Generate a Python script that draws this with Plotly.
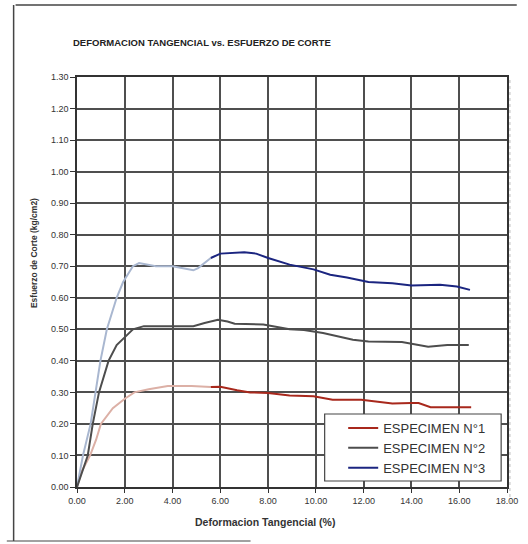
import plotly.graph_objects as go

# ---- data ----
spec1_x = [0, 0.2, 0.55, 0.8, 1.0, 1.5, 2.0, 2.4, 3.0, 3.8, 4.8, 5.6, 6.0, 6.7, 7.25, 8.0, 8.9, 9.9, 10.7, 11.9, 12.75, 13.2, 14.0, 14.3, 14.8, 15.6, 16.5]
spec1_y = [0, 0.05, 0.10, 0.15, 0.20, 0.25, 0.28, 0.30, 0.31, 0.32, 0.32, 0.317, 0.318, 0.307, 0.30, 0.298, 0.29, 0.288, 0.277, 0.277, 0.27, 0.265, 0.266, 0.266, 0.253, 0.253, 0.253]

spec2_x = [0, 0.45, 0.66, 0.92, 1.32, 1.66, 2.07, 2.34, 2.8, 4.0, 4.87, 5.34, 5.9, 6.3, 6.6, 7.8, 8.9, 9.5, 10.3, 11.55, 12.2, 13.6, 14.7, 15.5, 16.4]
spec2_y = [0, 0.10, 0.20, 0.30, 0.40, 0.45, 0.48, 0.50, 0.51, 0.51, 0.51, 0.52, 0.53, 0.525, 0.518, 0.515, 0.50, 0.498, 0.488, 0.467, 0.461, 0.46, 0.445, 0.45, 0.45]

spec3_x = [0, 0.25, 0.57, 0.77, 0.98, 1.25, 1.66, 1.93, 2.34, 2.6, 3.3, 4.0, 4.87, 5.07, 5.6, 6.0, 7.0, 7.5, 8.0, 8.9, 9.9, 10.6, 11.3, 12.2, 13.2, 14.0, 15.2, 15.9, 16.45]
spec3_y = [0, 0.10, 0.20, 0.30, 0.40, 0.50, 0.60, 0.65, 0.70, 0.71, 0.70, 0.70, 0.687, 0.694, 0.726, 0.74, 0.744, 0.74, 0.726, 0.705, 0.69, 0.673, 0.664, 0.65, 0.646, 0.639, 0.641, 0.636, 0.625]

names = ["ESPECIMEN N°1", "ESPECIMEN N°2", "ESPECIMEN N°3"]
x_ticks = [0, 2, 4, 6, 8, 10, 12, 14, 16, 18]
y_ticks = [0.0, 0.1, 0.2, 0.3, 0.4, 0.5, 0.6, 0.7, 0.8, 0.9, 1.0, 1.1, 1.2, 1.3]

title = "DEFORMACION TANGENCIAL vs. ESFUERZO DE CORTE"
x_title = "Deformacion Tangencial (%)"
y_title = "Esfuerzo de Corte (kg/cm2)"

# ---- style ----
dark_cols = ["#a8281c", "#4d4d4d", "#1b2580"]
pale_cols = ["#dcb0a6", None, "#a9b7d0"]
pale_until = [5.9, None, 5.6]

fig = go.Figure()
series = [(spec1_x, spec1_y), (spec2_x, spec2_y), (spec3_x, spec3_y)]

# pale (scan-faded) early parts, drawn first
for i, (xs, ys) in enumerate(series):
    if pale_until[i] is None:
        continue
    idx = [k for k, v in enumerate(xs) if v <= pale_until[i]]
    fig.add_trace(go.Scatter(x=[xs[k] for k in idx], y=[ys[k] for k in idx],
                             mode="lines", line=dict(color=pale_cols[i], width=2),
                             showlegend=False, hoverinfo="skip"))

for i, (xs, ys) in enumerate(series):
    if pale_until[i] is None:
        px, py = xs, ys
    else:
        idx = [k for k, v in enumerate(xs) if v > pale_until[i]]
        start = max(idx[0] - 1, 0)
        px, py = xs[start:], ys[start:]
    fig.add_trace(go.Scatter(x=px, y=py, mode="lines", name=names[i],
                             line=dict(color=dark_cols[i], width=2)))

W, H = 528, 544
L, R, T, B = 77, 10, 77, 57
pw, ph = W - L - R, H - T - B

def px2x(p):
    return (p - L) / pw

def py2y(p):
    return (H - B - p) / ph

grid_col = "#4f4f4f"
fig.update_layout(
    width=W, height=H,
    margin=dict(l=L, r=R, t=T, b=B),
    paper_bgcolor="white", plot_bgcolor="white",
    font=dict(family="Liberation Sans, Arial, sans-serif", color="#333"),
    showlegend=True,
    legend=dict(x=px2x(350), y=py2y(413), xanchor="left", yanchor="top",
                bgcolor="rgba(0,0,0,0)", borderwidth=0,
                font=dict(size=13, color="#333"), itemwidth=30,
                tracegroupgap=0),
    xaxis=dict(range=[0, 18], tickvals=x_ticks,
               ticktext=["%.2f" % v for v in x_ticks],
               showgrid=True, gridcolor=grid_col, gridwidth=1.5,
               showline=True, linecolor="#333", linewidth=1.5, mirror=True,
               ticks="outside", ticklen=4, tickcolor="#333",
               tickfont=dict(size=9, color="#333"), zeroline=False),
    yaxis=dict(range=[0, 1.3], tickvals=y_ticks,
               ticktext=["%.2f" % v for v in y_ticks],
               showgrid=True, gridcolor=grid_col, gridwidth=1.5,
               showline=True, linecolor="#333", linewidth=1.5, mirror=True,
               ticks="outside", ticklen=5, tickcolor="#333",
               tickfont=dict(size=9, color="#333"), zeroline=False),
    annotations=[
        dict(text="<b>" + title + "</b>", xref="paper", yref="paper",
             x=px2x(71), y=py2y(43), xanchor="left", yanchor="middle",
             showarrow=False, font=dict(size=9.5, color="#222")),
        dict(text="<b>" + x_title + "</b>", xref="paper", yref="paper",
             x=px2x(270), y=py2y(522), xanchor="center", yanchor="middle",
             showarrow=False, font=dict(size=10.5, color="#333")),
        dict(text="<b>" + y_title + "</b>", xref="paper", yref="paper",
             x=px2x(33), y=py2y(253), xanchor="center", yanchor="middle",
             textangle=-90, showarrow=False, font=dict(size=8.5, color="#333")),
    ],
    shapes=[
        # legend box
        dict(type="rect", xref="paper", yref="paper", x0=px2x(331), x1=px2x(512),
             y0=py2y(414), y1=py2y(481), fillcolor="white",
             line=dict(color="#444", width=1.2), layer="above"),
        # outer frame of the scanned sheet
        dict(type="line", xref="paper", yref="paper", x0=px2x(14), x1=px2x(528),
             y0=py2y(5), y1=py2y(5), line=dict(color="#444", width=1.5)),
        dict(type="line", xref="paper", yref="paper", x0=px2x(12), x1=px2x(12),
             y0=py2y(5), y1=py2y(541), line=dict(color="#444", width=1.5)),
        dict(type="line", xref="paper", yref="paper", x0=px2x(5), x1=px2x(255),
             y0=py2y(541), y1=py2y(541), line=dict(color="#444", width=1.2)),
        dict(type="line", xref="paper", yref="paper", x0=px2x(521), x1=px2x(521),
             y0=py2y(80), y1=py2y(505), line=dict(color="#bbb", width=1, dash="dot")),
    ],
)

fig.write_html("out.html", config={"displayModeBar": False},
               post_script="document.body.style.margin='0px';")
